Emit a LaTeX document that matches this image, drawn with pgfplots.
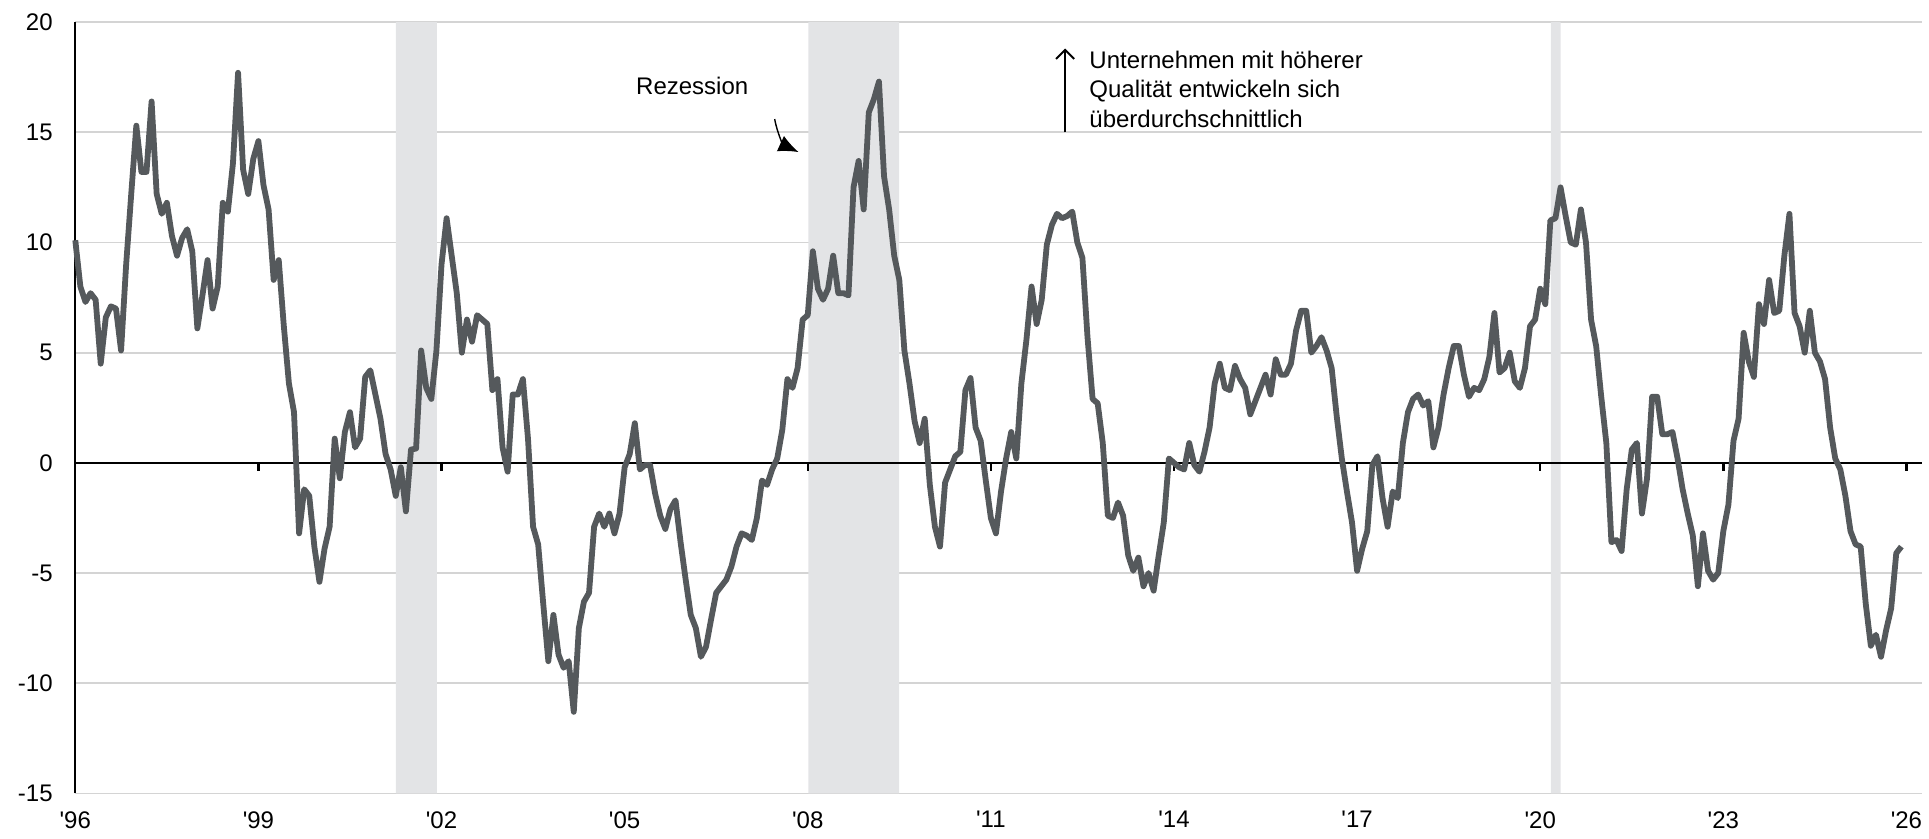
\documentclass[border=0pt]{standalone}
\usepackage{pgfplots}
\pgfplotsset{compat=1.18}
\usepackage{pgfplotstable}
\usepackage{fontspec}
\setmainfont{Liberation Sans}
\usetikzlibrary{arrows.meta}
\definecolor{linecol}{RGB}{85,89,92}
\definecolor{gridgray}{RGB}{212,212,212}
\definecolor{recgray}{RGB}{227,228,230}

\pgfplotstableread{
m v
0 10.1
1 8.0
2 7.3
3 7.7
4 7.4
5 4.5
6 6.6
7 7.1
8 7.0
9 5.1
10 9.0
11 12.2
12 15.3
13 13.2
14 13.2
15 16.4
16 12.2
17 11.3
18 11.8
19 10.3
20 9.4
21 10.2
22 10.6
23 9.6
24 6.1
25 7.6
26 9.2
27 7.0
28 8.0
29 11.8
30 11.4
31 13.6
32 17.7
33 13.3
34 12.2
35 13.8
36 14.6
37 12.6
38 11.5
39 8.3
40 9.2
41 6.2
42 3.6
43 2.3
44 -3.2
45 -1.2
46 -1.5
47 -3.8
48 -5.4
49 -3.9
50 -2.9
51 1.1
52 -0.7
53 1.4
54 2.3
55 0.7
56 1.1
57 3.9
58 4.2
59 3.1
60 2.0
61 0.4
62 -0.3
63 -1.5
64 -0.2
65 -2.2
66 0.6
67 0.65
68 5.1
69 3.4
70 2.9
71 5.1
72 9.0
73 11.1
74 9.4
75 7.7
76 5.0
77 6.5
78 5.5
79 6.7
80 6.5
81 6.3
82 3.3
83 3.8
84 0.7
85 -0.4
86 3.1
87 3.1
88 3.8
89 1.1
90 -2.9
91 -3.7
92 -6.4
93 -9.0
94 -6.9
95 -8.7
96 -9.3
97 -9.0
98 -11.3
99 -7.5
100 -6.3
101 -5.9
102 -2.9
103 -2.3
104 -2.9
105 -2.3
106 -3.2
107 -2.3
108 -0.2
109 0.4
110 1.8
111 -0.3
112 -0.1
113 -0.1
114 -1.4
115 -2.4
116 -3.0
117 -2.1
118 -1.7
119 -3.6
120 -5.3
121 -6.9
122 -7.5
123 -8.8
124 -8.35
125 -7.1
126 -5.9
127 -5.6
128 -5.3
129 -4.7
130 -3.8
131 -3.2
132 -3.3
133 -3.5
134 -2.5
135 -0.8
136 -1.0
137 -0.3
138 0.2
139 1.5
140 3.8
141 3.4
142 4.3
143 6.5
144 6.7
145 9.6
146 7.9
147 7.4
148 7.9
149 9.4
150 7.7
151 7.7
152 7.6
153 12.5
154 13.7
155 11.5
156 15.9
157 16.5
158 17.3
159 13.0
160 11.5
161 9.4
162 8.3
163 5.1
164 3.6
165 1.9
166 0.9
167 2.0
168 -1.0
169 -2.9
170 -3.8
171 -0.9
172 -0.3
173 0.3
174 0.5
175 3.3
176 3.85
177 1.6
178 1.0
179 -0.8
180 -2.5
181 -3.2
182 -1.3
183 0.2
184 1.4
185 0.2
186 3.6
187 5.6
188 8.0
189 6.3
190 7.4
191 9.9
192 10.8
193 11.3
194 11.1
195 11.2
196 11.4
197 10.0
198 9.3
199 5.7
200 2.9
201 2.7
202 0.9
203 -2.4
204 -2.5
205 -1.8
206 -2.4
207 -4.2
208 -4.9
209 -4.3
210 -5.6
211 -5.0
212 -5.8
213 -4.2
214 -2.7
215 0.2
216 0.0
217 -0.2
218 -0.3
219 0.9
220 -0.1
221 -0.4
222 0.5
223 1.6
224 3.6
225 4.5
226 3.4
227 3.3
228 4.4
229 3.8
230 3.4
231 2.2
232 2.8
233 3.4
234 4.0
235 3.1
236 4.7
237 4.0
238 4.0
239 4.5
240 6.0
241 6.9
242 6.9
243 5.0
244 5.3
245 5.7
246 5.1
247 4.3
248 2.1
249 0.2
250 -1.3
251 -2.7
252 -4.9
253 -3.9
254 -3.1
255 -0.1
256 0.3
257 -1.6
258 -2.9
259 -1.3
260 -1.6
261 0.9
262 2.3
263 2.9
264 3.1
265 2.6
266 2.8
267 0.7
268 1.6
269 3.1
270 4.3
271 5.3
272 5.3
273 4.0
274 3.0
275 3.4
276 3.3
277 3.8
278 4.8
279 6.8
280 4.1
281 4.3
282 5.0
283 3.7
284 3.4
285 4.3
286 6.2
287 6.5
288 7.9
289 7.2
290 11.0
291 11.1
292 12.5
293 11.2
294 10.0
295 9.9
296 11.5
297 10.0
298 6.5
299 5.3
300 3.0
301 0.9
302 -3.6
303 -3.5
304 -4.0
305 -1.2
306 0.6
307 0.9
308 -2.3
309 -0.7
310 3.0
311 3.0
312 1.3
313 1.3
314 1.4
315 0.2
316 -1.2
317 -2.3
318 -3.3
319 -5.6
320 -3.2
321 -4.9
322 -5.3
323 -5.0
324 -3.1
325 -1.9
326 1.0
327 2.0
328 5.9
329 4.6
330 3.9
331 7.2
332 6.3
333 8.3
334 6.8
335 6.9
336 9.4
337 11.3
338 6.8
339 6.2
340 5.0
341 6.9
342 5.0
343 4.6
344 3.8
345 1.6
346 0.2
347 -0.3
348 -1.5
349 -3.1
350 -3.7
351 -3.8
352 -6.4
353 -8.3
354 -7.8
355 -8.8
356 -7.6
357 -6.6
358 -4.1
359 -3.8
}\datatable

\begin{document}
\begin{tikzpicture}
\path[use as bounding box] (-37.65pt,-22.75pt) rectangle (926.95pt,396.75pt);
\begin{axis}[
  at={(0,0)}, anchor=south west,
  scale only axis,
  width=923.3pt, height=385.7pt,
  xmin=0, xmax=363,
  ymin=-15, ymax=20,
  axis x line*=bottom,
  axis y line*=left,
  x axis line style={draw=none},
  y axis line style={black, line width=1.2pt},
  xtick={0,36,72,108,144,180,216,252,288,324,360},
  xticklabels={\textquotesingle 96,\textquotesingle 99,\textquotesingle 02,\textquotesingle 05,\textquotesingle 08,\textquotesingle 11,\textquotesingle 14,\textquotesingle 17,\textquotesingle 20,\textquotesingle 23,\textquotesingle 26},
  ytick={-15,-10,-5,0,5,10,15,20},
  yticklabels={-15,-10,-5,0,5,10,15,20},
  major tick length=0pt,
  tick style={draw=none},
  ymajorgrids,
  grid style={gridgray, line width=0.9pt},
  tick label style={font=\fontsize{12}{14}\selectfont, text=black},
  yticklabel style={xshift=-7.8pt},
  xticklabel style={yshift=-5.5pt},
  unbounded coords=jump,
  clip=false,
]
% recession shading
\addplot[fill=recgray, draw=none] coordinates {(63.05,-15) (63.05,20) (71.1,20) (71.1,-15) (63.05,-15)};
\addplot[fill=recgray, draw=none] coordinates {(144.1,-15) (144.1,20) (161.95,20) (161.95,-15) (144.1,-15)};
\addplot[fill=recgray, draw=none] coordinates {(290.1,-15) (290.1,20) (292.0,20) (292.0,-15) (290.1,-15)};
% zero line and its ticks
\addplot[black, line width=1.3pt] coordinates {(0,0) (363,0)};
\addplot[black, line width=1.2pt] coordinates {
(36,0) (36,-0.36) (36,nan)
(72,0) (72,-0.36) (72,nan)
(108,0) (108,-0.36) (108,nan)
(144,0) (144,-0.36) (144,nan)
(180,0) (180,-0.36) (180,nan)
(216,0) (216,-0.36) (216,nan)
(252,0) (252,-0.36) (252,nan)
(288,0) (288,-0.36) (288,nan)
(324,0) (324,-0.36) (324,nan)
(360,0) (360,-0.36)};
% data line
\addplot[linecol, line width=2.9pt, line join=round] table[x=m, y=v] {\datatable};
% annotations
\node[anchor=west, inner sep=0pt, font=\fontsize{12}{14}\selectfont] at (axis cs:110.2,17.1) {Rezession};
\draw[line width=0.7pt, -{Latex[length=10pt,width=8.5pt]}] (axis cs:137.5,15.6) to[out=-80, in=155] (axis cs:142.2,14.1);
\draw[line width=1pt, -{Straight Barb[length=4.5pt,width=9pt]}] (axis cs:194.6,15) -- (axis cs:194.6,18.8);
\node[anchor=west, align=left, inner sep=0pt, font=\fontsize{12}{14.7}\selectfont] at (axis cs:199.3,16.95) {Unternehmen mit höherer\\Qualität entwickeln sich\\überdurchschnittlich};
\end{axis}
\end{tikzpicture}
\end{document}
